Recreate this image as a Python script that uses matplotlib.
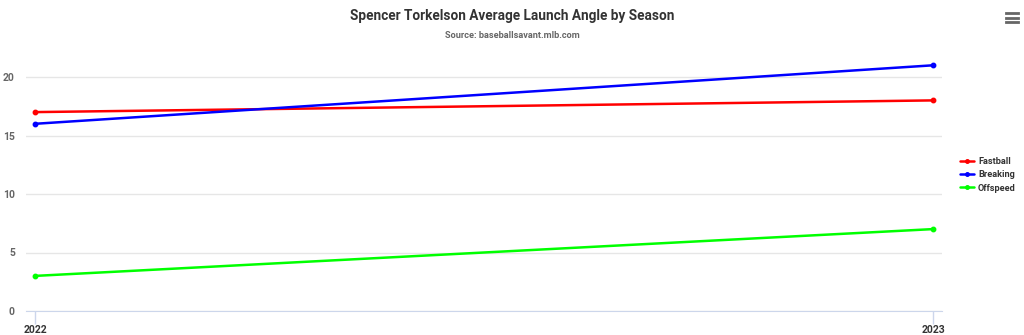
import matplotlib
matplotlib.use("Agg")
import matplotlib.pyplot as plt
from matplotlib.lines import Line2D

plt.rcParams["font.family"] = ["Roboto", "DejaVu Sans"]
plt.rcParams["font.weight"] = "bold"

seasons = [2022, 2023]
fastball = [17.0, 18.0]
breaking = [16.0, 21.0]
offspeed = [3.0, 7.0]
y_ticks = [0, 5, 10, 15, 20]

W, H = 1024, 335
fig = plt.figure(figsize=(W / 100, H / 100), dpi=100)
# plot area in pixels: left 26, right 942, top 55, bottom 311
ax = fig.add_axes([26 / W, 1 - 311 / H, (942 - 26) / W, (311 - 55) / H])

series = [("Fastball", fastball, "#ff0000"),
          ("Breaking", breaking, "#0000ff"),
          ("Offspeed", offspeed, "#00ff00")]
for name, vals, col in series:
    ax.plot(seasons, vals, color=col, lw=1.8, marker="o", ms=3.2,
            label=name, solid_capstyle="round")

pad = (942 - 26 - 898) / 2 / 898
ax.set_xlim(2022 - pad, 2023 + pad)
ax.set_ylim(0, 256 / 11.7)

ax.set_yticks(y_ticks)
ax.set_xticks(seasons)
ax.grid(axis="y", color="#e6e6e6", lw=1)
ax.set_axisbelow(True)
for s in ["top", "right", "left"]:
    ax.spines[s].set_visible(False)
ax.spines["bottom"].set_color("#ccd6eb")
ax.tick_params(axis="y", length=0, pad=8, labelsize=7.5, labelcolor="#666666")
ax.tick_params(axis="x", length=9, width=1, color="#ccd6eb", pad=1,
               labelsize=7.5, labelcolor="#333333")

fig.text(0.5, 1 - 16 / H, "Spencer Torkelson Average Launch Angle by Season",
         ha="center", va="center", fontsize=9.8, color="#333333", weight="bold")
fig.text(0.5, 1 - 36 / H, "Source: baseballsavant.mlb.com",
         ha="center", va="center", fontsize=6.6, color="#666666", weight="bold")

leg = fig.legend(loc="upper left", bbox_to_anchor=(952 / W, 1 - 149 / H),
                 frameon=False, fontsize=6.6, handlelength=1.5,
                 handletextpad=0.45, labelspacing=0.45, markerscale=0.8)
for t in leg.get_texts():
    t.set_color("#333333")

# menu icon
for yy in (13, 17.5, 22):
    fig.add_artist(Line2D([1006 / W, 1018 / W], [1 - yy / H, 1 - yy / H],
                          color="#666666", lw=2, transform=fig.transFigure))

fig.savefig("out.png", dpi=100, facecolor="white")
